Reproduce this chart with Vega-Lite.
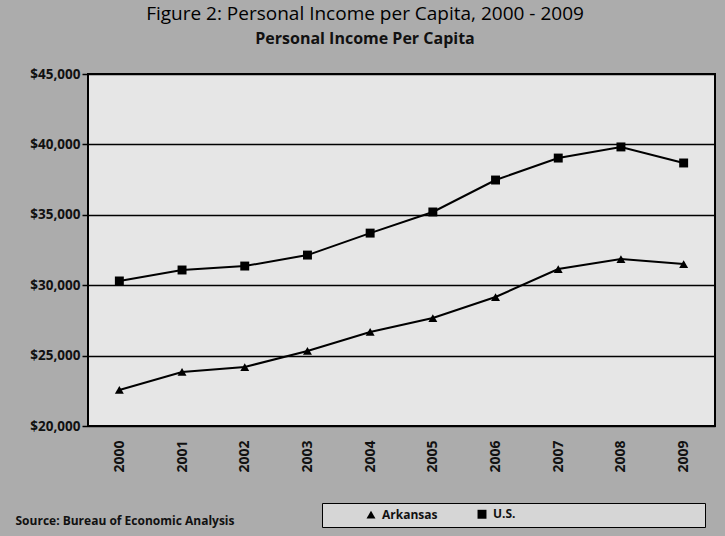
{
  "$schema": "https://vega.github.io/schema/vega-lite/v6.json",
  "autosize": {"type": "none"},
  "width": 627,
  "height": 352,
  "padding": {"left": 88, "top": 74, "right": 10, "bottom": 110},
  "background": "#acacac",
  "title": {
    "text": "Figure 2: Personal Income per Capita, 2000 - 2009",
    "subtitle": "Personal Income Per Capita",
    "frame": "bounds",
    "anchor": "middle",
    "font": "Open Sans",
    "fontSize": 19,
    "fontWeight": "normal",
    "color": "#000000",
    "subtitleFont": "Open Sans",
    "subtitleFontSize": 16,
    "subtitleFontWeight": "bold",
    "subtitleColor": "#111111",
    "subtitlePadding": 7,
    "offset": 20
  },
  "data": {
    "values": [
      {"year": "2000", "series": "Arkansas", "income": 22560},
      {"year": "2001", "series": "Arkansas", "income": 23840},
      {"year": "2002", "series": "Arkansas", "income": 24190},
      {"year": "2003", "series": "Arkansas", "income": 25330},
      {"year": "2004", "series": "Arkansas", "income": 26680},
      {"year": "2005", "series": "Arkansas", "income": 27670},
      {"year": "2006", "series": "Arkansas", "income": 29160},
      {"year": "2007", "series": "Arkansas", "income": 31150},
      {"year": "2008", "series": "Arkansas", "income": 31860},
      {"year": "2009", "series": "Arkansas", "income": 31500},
      {"year": "2000", "series": "U.S.", "income": 30300},
      {"year": "2001", "series": "U.S.", "income": 31080},
      {"year": "2002", "series": "U.S.", "income": 31360},
      {"year": "2003", "series": "U.S.", "income": 32140},
      {"year": "2004", "series": "U.S.", "income": 33700},
      {"year": "2005", "series": "U.S.", "income": 35200},
      {"year": "2006", "series": "U.S.", "income": 37470},
      {"year": "2007", "series": "U.S.", "income": 39030},
      {"year": "2008", "series": "U.S.", "income": 39820},
      {"year": "2009", "series": "U.S.", "income": 38680}
    ]
  },
  "encoding": {
    "x": {
      "field": "year",
      "type": "ordinal",
      "scale": {"type": "point", "padding": 0.5},
      "axis": {
        "title": "Source: Bureau of Economic Analysis",
        "titleFont": "Open Sans",
        "titleFontSize": 12,
        "titleFontWeight": "bold",
        "titleColor": "#111111",
        "titleAnchor": "start",
        "titleAlign": "left",
        "titleBaseline": "middle",
        "titleX": -73,
        "titleY": 94,
        "labelAngle": 270,
        "labelAlign": "right",
        "labelBaseline": "middle",
        "labelFont": "Open Sans",
        "labelFontSize": 14,
        "labelFontWeight": "bold",
        "labelColor": "#111111",
        "labelPadding": 14,
        "ticks": false,
        "domain": false,
        "grid": false
      }
    },
    "y": {
      "field": "income",
      "type": "quantitative",
      "scale": {"domain": [20000, 45000], "nice": false, "zero": false},
      "axis": {
        "title": null,
        "values": [20000, 25000, 30000, 35000, 40000, 45000],
        "format": "$,.0f",
        "labelFont": "Open Sans",
        "labelFontSize": 13.5,
        "labelFontWeight": "bold",
        "labelColor": "#111111",
        "labelPadding": 2,
        "tickSize": 6,
        "tickColor": "#000000",
        "tickWidth": 1.5,
        "domain": false,
        "grid": true,
        "gridColor": "#000000",
        "gridWidth": 1.5,
        "gridOpacity": 1
      }
    },
    "shape": {
      "field": "series",
      "type": "nominal",
      "scale": {"domain": ["Arkansas", "U.S."], "range": ["triangle-up", "square"]},
      "legend": {
        "title": null,
        "orient": "none",
        "legendX": 234,
        "legendY": 429,
        "direction": "horizontal",
        "columns": 2,
        "columnPadding": 0,
        "padding": 5,
        "strokeColor": "#000000",
        "fillColor": "#d6d6d6",
        "symbolOffset": 38,
        "symbolFillColor": "#000000",
        "symbolStrokeColor": "#000000",
        "symbolSize": 80,
        "labelFont": "Open Sans",
        "labelFontSize": 12,
        "labelFontWeight": "bold",
        "labelColor": "#111111",
        "labelOffset": 5,
        "labelLimit": 400,
        "labelExpr": "datum.label == 'U.S.' ? 'U.S.\u00a0\u00a0\u00a0\u00a0\u00a0\u00a0\u00a0\u00a0\u00a0\u00a0\u00a0\u00a0\u00a0\u00a0\u00a0\u00a0\u00a0\u00a0\u00a0\u00a0\u00a0\u00a0\u00a0\u00a0\u00a0\u00a0\u00a0\u00a0\u00a0\u00a0\u00a0\u00a0\u00a0\u00a0\u00a0\u00a0\u00a0\u00a0\u00a0\u00a0\u00a0\u00a0\u00a0\u00a0\u00a0\u00a0\u00a0\u00a0\u00a0\u00a0\u00a0\u00a0\u00a0\u00a0\u00a0\u00a0\u00a0\u00a0\u00a0\u200b' : datum.label"
      }
    },
    "detail": {"field": "series", "type": "nominal"}
  },
  "layer": [
    {"mark": {"type": "line", "color": "#000000", "strokeWidth": 2}},
    {"mark": {"type": "point", "filled": true, "color": "#000000", "size": 80, "opacity": 1}}
  ],
  "config": {
    "mark": {"color": "#000000"},
    "view": {"fill": "#e6e6e6", "stroke": "#000000", "strokeWidth": 2}
  }
}
